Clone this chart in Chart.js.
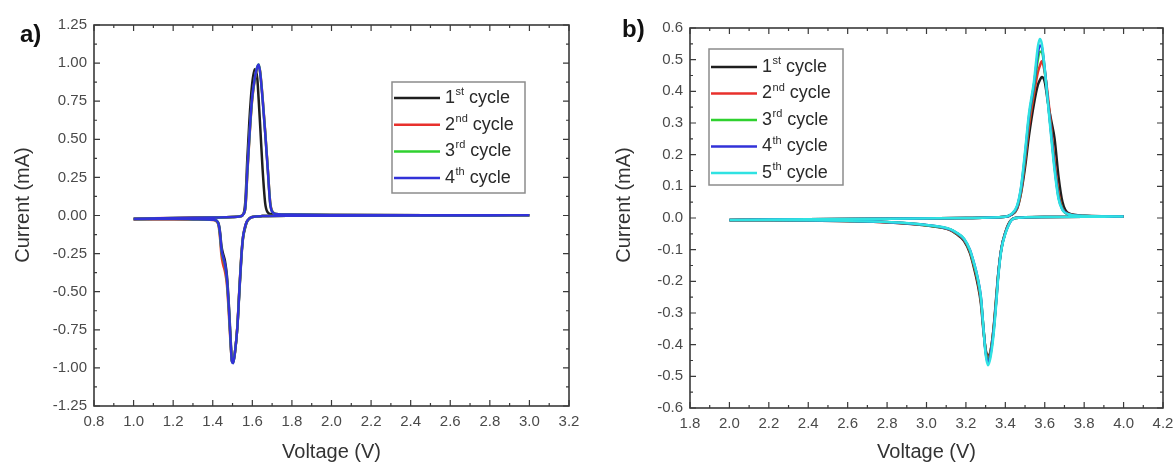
<!DOCTYPE html>
<html>
<head>
<meta charset="utf-8">
<script src="https://cdn.jsdelivr.net/npm/chart.js@4.4.0/dist/chart.umd.min.js"></script>
<style>
    body { margin: 0; background: #fff; width: 1174px; height: 464px; position: relative; overflow: hidden; }
    canvas { position: absolute; top: 0; }
    #chartA { left: 0; }
    #chartB { left: 587px; }
    .panel { position: absolute; z-index: 2; font: bold 24px 'Liberation Sans', Arial, sans-serif; color: #111; line-height: 1; }
</style>
</head>
<body>
<canvas id="chartA" width="587" height="464"></canvas>
<canvas id="chartB" width="587" height="464"></canvas>
<div class="panel" style="left:20px;top:22px">a)</div>
<div class="panel" style="left:622px;top:17px">b)</div>
<script>
// ---- panel a: 4 cycles, 1.0 - 3.0 V ----
const voltsUpA = [1.00, 1.20, 1.40, 1.50, 1.54, 1.555, 1.565, 1.575, 1.585, 1.598, 1.612, 1.625, 1.632, 1.64, 1.652, 1.665, 1.678, 1.69, 1.70, 1.72, 1.80, 2.00, 2.50, 3.00];
const currentUpA1 = [-0.025, -0.018, -0.013, -0.010, -0.005, 0.010, 0.100, 0.380, 0.620, 0.850, 0.960, 0.900, 0.760, 0.580, 0.300, 0.080, 0.020, 0.010, 0.008, 0.007, 0.005, 0.003, 0.002, 0.002];
const currentUpA2 = [-0.020, -0.016, -0.012, -0.010, -0.005, 0.010, 0.050, 0.280, 0.500, 0.740, 0.890, 0.970, 0.985, 0.940, 0.770, 0.550, 0.310, 0.090, 0.030, 0.010, 0.006, 0.004, 0.002, 0.002];
const currentUpA3 = [-0.021, -0.017, -0.013, -0.010, -0.005, 0.010, 0.055, 0.290, 0.510, 0.750, 0.895, 0.975, 0.990, 0.935, 0.765, 0.545, 0.305, 0.085, 0.027, 0.010, 0.006, 0.004, 0.002, 0.002];
const currentUpA4 = [-0.022, -0.017, -0.013, -0.010, -0.005, 0.010, 0.060, 0.300, 0.520, 0.760, 0.900, 0.975, 0.990, 0.930, 0.760, 0.540, 0.300, 0.080, 0.025, 0.010, 0.006, 0.004, 0.002, 0.002];

const voltsDownA = [2.80, 2.50, 2.00, 1.80, 1.65, 1.60, 1.585, 1.572, 1.562, 1.553, 1.545, 1.535, 1.524, 1.512, 1.503, 1.497, 1.490, 1.482, 1.472, 1.462, 1.452, 1.444, 1.437, 1.430, 1.420, 1.400, 1.300, 1.200, 1.100, 1.000];
const currentDownA1 = [0.000, 0.000, -0.001, -0.002, -0.004, -0.010, -0.020, -0.045, -0.090, -0.150, -0.270, -0.490, -0.740, -0.900, -0.960, -0.950, -0.800, -0.600, -0.400, -0.300, -0.250, -0.200, -0.110, -0.055, -0.035, -0.028, -0.025, -0.024, -0.024, -0.025];
const currentDownA2 = [0.000, 0.000, -0.001, -0.002, -0.004, -0.010, -0.020, -0.040, -0.080, -0.140, -0.250, -0.470, -0.730, -0.900, -0.965, -0.955, -0.840, -0.660, -0.460, -0.370, -0.320, -0.260, -0.150, -0.070, -0.040, -0.030, -0.025, -0.023, -0.023, -0.024];
const currentDownA3 = [0.000, 0.000, -0.001, -0.002, -0.004, -0.010, -0.020, -0.041, -0.082, -0.142, -0.258, -0.478, -0.738, -0.900, -0.968, -0.958, -0.825, -0.630, -0.430, -0.330, -0.280, -0.230, -0.130, -0.062, -0.036, -0.028, -0.024, -0.022, -0.022, -0.023];
const currentDownA4 = [0.000, 0.000, -0.001, -0.002, -0.004, -0.010, -0.020, -0.040, -0.080, -0.140, -0.260, -0.480, -0.740, -0.900, -0.970, -0.960, -0.820, -0.620, -0.420, -0.320, -0.270, -0.220, -0.120, -0.060, -0.035, -0.028, -0.024, -0.022, -0.022, -0.023];

// ---- panel b: 5 cycles, 2.0 - 4.0 V ----
const voltsUpB = [2.00, 2.40, 2.80, 3.20, 3.40, 3.43, 3.46, 3.48, 3.50, 3.52, 3.545, 3.565, 3.575, 3.585, 3.60, 3.615, 3.632, 3.65, 3.67, 3.69, 3.72, 3.80, 4.00];
const currentUpB1 = [-0.006, -0.004, -0.002, 0.000, 0.004, 0.010, 0.030, 0.080, 0.160, 0.260, 0.360, 0.420, 0.435, 0.445, 0.430, 0.370, 0.310, 0.250, 0.130, 0.050, 0.015, 0.007, 0.005];
const currentUpB2 = [-0.006, -0.004, -0.002, 0.000, 0.004, 0.010, 0.032, 0.085, 0.180, 0.290, 0.390, 0.460, 0.480, 0.495, 0.460, 0.390, 0.290, 0.180, 0.080, 0.030, 0.013, 0.006, 0.005];
const currentUpB3 = [-0.006, -0.004, -0.002, 0.000, 0.004, 0.011, 0.035, 0.090, 0.190, 0.310, 0.410, 0.500, 0.525, 0.525, 0.465, 0.375, 0.275, 0.165, 0.070, 0.028, 0.012, 0.006, 0.005];
const currentUpB4 = [-0.006, -0.004, -0.002, 0.000, 0.004, 0.011, 0.037, 0.095, 0.200, 0.320, 0.420, 0.520, 0.545, 0.540, 0.470, 0.375, 0.270, 0.160, 0.065, 0.027, 0.012, 0.006, 0.005];
const currentUpB5 = [-0.006, -0.004, -0.002, 0.000, 0.004, 0.012, 0.040, 0.100, 0.210, 0.330, 0.430, 0.540, 0.565, 0.550, 0.470, 0.370, 0.260, 0.150, 0.060, 0.025, 0.012, 0.006, 0.005];

const voltsDownB = [3.90, 3.80, 3.60, 3.50, 3.45, 3.43, 3.415, 3.40, 3.38, 3.365, 3.355, 3.34, 3.325, 3.312, 3.30, 3.288, 3.276, 3.26, 3.24, 3.22, 3.19, 3.15, 3.12, 3.00, 2.80, 2.60, 2.40, 2.20, 2.00];
const currentDownB1 = [0.004, 0.004, 0.003, 0.002, 0.000, -0.006, -0.020, -0.045, -0.095, -0.170, -0.240, -0.350, -0.420, -0.435, -0.415, -0.350, -0.270, -0.210, -0.155, -0.110, -0.072, -0.050, -0.038, -0.024, -0.014, -0.010, -0.008, -0.007, -0.007];
const currentDownB2 = [0.004, 0.004, 0.003, 0.002, 0.000, -0.007, -0.022, -0.046, -0.096, -0.170, -0.248, -0.352, -0.420, -0.445, -0.418, -0.342, -0.260, -0.200, -0.148, -0.105, -0.069, -0.048, -0.037, -0.023, -0.014, -0.009, -0.007, -0.006, -0.006];
const currentDownB3 = [0.004, 0.004, 0.003, 0.002, 0.000, -0.007, -0.023, -0.047, -0.097, -0.172, -0.250, -0.355, -0.425, -0.450, -0.420, -0.340, -0.255, -0.195, -0.145, -0.103, -0.067, -0.047, -0.036, -0.023, -0.013, -0.009, -0.007, -0.006, -0.006];
const currentDownB4 = [0.004, 0.004, 0.003, 0.002, 0.000, -0.008, -0.024, -0.048, -0.098, -0.175, -0.255, -0.360, -0.430, -0.455, -0.425, -0.340, -0.250, -0.190, -0.140, -0.100, -0.066, -0.046, -0.036, -0.022, -0.013, -0.009, -0.007, -0.006, -0.006];
const currentDownB5 = [0.004, 0.004, 0.003, 0.002, 0.000, -0.008, -0.025, -0.050, -0.100, -0.180, -0.260, -0.370, -0.440, -0.465, -0.430, -0.340, -0.250, -0.190, -0.140, -0.100, -0.065, -0.045, -0.035, -0.022, -0.013, -0.009, -0.007, -0.006, -0.006];

// legend text: 1st cycle, 2nd cycle ...
const cycleNums = ['1', '2', '3', '4', '5'];
const cycleSups = ['st', 'nd', 'rd', 'th', 'th'];
const cycleColors = ['#1e1e1e', '#e8302c', '#2fd12f', '#3232d8', '#2fe2e2'];

const FONT = "'Liberation Sans', Arial, sans-serif";
Chart.defaults.font.family = FONT;

function cyclePoints(upV, upI, downV, downI) {
    const up = upV.map((x, i) => ({ x, y: upI[i] }));
    const down = downV.map((x, i) => ({ x, y: downI[i] }));
    return up.concat(down);
}

// inward major/minor ticks on all four sides + frame
const frameTicks = {
    id: 'frameTicks',
    afterDatasetsDraw(chart) {
        const { ctx, chartArea: a, scales } = chart;
        const withMinor = vals => vals.flatMap((v, i) => i ? [[(vals[i - 1] + v) / 2, 3], [v, 6]] : [[v, 6]]);
        ctx.save();
        ctx.strokeStyle = '#3a3a3a';
        ctx.lineWidth = 1.2;
        ctx.beginPath();
        withMinor(scales.x.ticks.map(t => t.value)).forEach(([v, len]) => {
            const px = scales.x.getPixelForValue(v);
            ctx.moveTo(px, a.bottom); ctx.lineTo(px, a.bottom - len);
            ctx.moveTo(px, a.top); ctx.lineTo(px, a.top + len);
        });
        withMinor(scales.y.ticks.map(t => t.value)).forEach(([v, len]) => {
            const py = scales.y.getPixelForValue(v);
            ctx.moveTo(a.left, py); ctx.lineTo(a.left + len, py);
            ctx.moveTo(a.right, py); ctx.lineTo(a.right - len, py);
        });
        ctx.stroke();
        ctx.lineWidth = 1.6;
        ctx.strokeRect(a.left, a.top, a.right - a.left, a.bottom - a.top);
        ctx.restore();
    }
};

// boxed legend with superscript ordinals
const cycleLegend = {
    id: 'cycleLegend',
    afterDraw(chart, args, opts) {
        const { ctx } = chart;
        ctx.save();
        ctx.fillStyle = '#fff';
        ctx.fillRect(opts.x, opts.y, opts.w, opts.h);
        ctx.strokeStyle = '#8c8c8c';
        ctx.lineWidth = 1.5;
        ctx.strokeRect(opts.x, opts.y, opts.w, opts.h);
        ctx.textBaseline = 'middle';
        chart.data.datasets.forEach((ds, i) => {
            const cy = opts.y + opts.first + i * opts.step;
            ctx.strokeStyle = ds.borderColor;
            ctx.lineWidth = 2.5;
            ctx.beginPath();
            ctx.moveTo(opts.x + 2, cy);
            ctx.lineTo(opts.x + 48, cy);
            ctx.stroke();

            let tx = opts.x + 53;
            ctx.fillStyle = '#2a2a2a';
            ctx.font = '18px ' + FONT;
            ctx.fillText(cycleNums[i], tx, cy);
            tx += ctx.measureText(cycleNums[i]).width + 0.5;
            ctx.font = '11px ' + FONT;
            ctx.fillText(cycleSups[i], tx, cy - 6);
            tx += ctx.measureText(cycleSups[i]).width;
            ctx.font = '18px ' + FONT;
            ctx.fillText(' cycle', tx, cy);
        });
        ctx.restore();
    }
};

// rotated y title (sits a little above the axis centre, as in the figure)
const yTitle = {
    id: 'yTitle',
    afterDraw(chart, args, opts) {
        const { ctx } = chart;
        ctx.save();
        ctx.translate(opts.x, opts.y);
        ctx.rotate(-Math.PI / 2);
        ctx.font = '20px ' + FONT;
        ctx.fillStyle = '#333';
        ctx.textAlign = 'center';
        ctx.textBaseline = 'middle';
        ctx.fillText('Current (mA)', 0, 0);
        ctx.restore();
    }
};

function makeChart(id, p) {
    return new Chart(document.getElementById(id), {
        type: 'scatter',
        plugins: [frameTicks, cycleLegend, yTitle],
        data: {
            datasets: p.sets.map((s, i) => ({
                data: s,
                borderColor: cycleColors[i],
                borderWidth: 2.5,
                showLine: true,
                pointRadius: 0,
                cubicInterpolationMode: 'monotone',
                order: p.sets.length - 1 - i
            }))
        },
        options: {
            responsive: false,
            animation: false,
            events: [],
            layout: { padding: p.pad },
            plugins: {
                legend: { display: false },
                tooltip: { enabled: false },
                cycleLegend: p.legend,
                yTitle: p.title
            },
            scales: {
                x: {
                    type: 'linear',
                    min: p.xMin, max: p.xMax,
                    grid: { display: false, drawTicks: false },
                    border: { display: false },
                    ticks: {
                        stepSize: 0.2, maxTicksLimit: 100, autoSkip: false, maxRotation: 0,
                        padding: 7, color: '#4a4a4a', font: { size: 15 },
                        callback: v => (Math.abs(v) < 1e-9 ? 0 : v).toFixed(1)
                    },
                    title: { display: true, text: 'Voltage (V)', color: '#333', font: { size: 20 }, padding: { top: 0, bottom: 0 } },
                    afterFit: s => { s.height = p.xHeight; s.paddingLeft = 0; s.paddingRight = 0; }
                },
                y: {
                    min: p.yMin, max: p.yMax,
                    grid: { display: false, drawTicks: false },
                    border: { display: false },
                    ticks: {
                        stepSize: p.yStep, maxTicksLimit: 100, autoSkip: false,
                        padding: 7, color: '#4a4a4a', font: { size: 15 },
                        callback: v => (Math.abs(v) < 1e-9 ? 0 : v).toFixed(p.yDigits)
                    },
                    afterFit: s => { s.width = p.yWidth; s.paddingTop = 0; s.paddingBottom = 0; }
                }
            }
        }
    });
}

makeChart('chartA', {
    sets: [
        cyclePoints(voltsUpA, currentUpA1, voltsDownA, currentDownA1),
        cyclePoints(voltsUpA, currentUpA2, voltsDownA, currentDownA2),
        cyclePoints(voltsUpA, currentUpA3, voltsDownA, currentDownA3),
        cyclePoints(voltsUpA, currentUpA4, voltsDownA, currentDownA4)
    ],
    xMin: 0.8, xMax: 3.2, yMin: -1.25, yMax: 1.25, yStep: 0.25, yDigits: 2,
    pad: { left: 0, top: 25, right: 18, bottom: 0 },
    yWidth: 94, xHeight: 58,
    legend: { x: 392, y: 82, w: 133, h: 111, first: 16, step: 26.7 },
    title: { x: 23, y: 205 }
});

makeChart('chartB', {
    sets: [
        cyclePoints(voltsUpB, currentUpB1, voltsDownB, currentDownB1),
        cyclePoints(voltsUpB, currentUpB2, voltsDownB, currentDownB2),
        cyclePoints(voltsUpB, currentUpB3, voltsDownB, currentDownB3),
        cyclePoints(voltsUpB, currentUpB4, voltsDownB, currentDownB4),
        cyclePoints(voltsUpB, currentUpB5, voltsDownB, currentDownB5)
    ],
    xMin: 1.8, xMax: 4.2, yMin: -0.6, yMax: 0.6, yStep: 0.1, yDigits: 1,
    pad: { left: 0, top: 28, right: 11, bottom: 0 },
    yWidth: 103, xHeight: 56,
    legend: { x: 122, y: 49, w: 134, h: 136, first: 18, step: 26.5 },
    title: { x: 37, y: 205 }
});
</script>
</body>
</html>
